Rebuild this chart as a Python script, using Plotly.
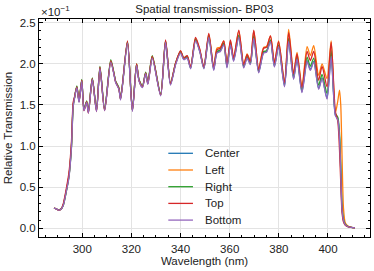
import plotly.graph_objects as go

# Wavelength samples (nm)
wavelength = [288.5, 289.5, 290.5, 291.5, 292.3, 293.0, 293.8, 294.6, 295.6, 296.3,
              296.8, 297.8, 298.7, 299.8, 300.7, 301.8, 302.5, 304.1, 305.8, 307.2,
              309.1, 311.6, 312.9, 313.6, 314.9, 315.6, 318.4, 320.4, 322.1, 323.1,
              324.5, 325.8, 326.7, 328.5, 331.9, 333.9, 335.9, 338.0, 340.0, 341.3,
              342.7, 344.1, 346.1, 347.8, 349.5, 351.5, 353.5, 354.8, 356.2, 357.6,
              358.9, 360.3, 361.6, 363.7, 365.7, 367.1, 368.4, 369.8, 371.8, 373.8,
              375.0, 376.6, 378.2, 379.9, 382.3, 384.0, 386.0, 387.4, 389.4, 391.5,
              392.8, 394.2, 396.2, 397.6, 399.6, 401.3, 403.0, 404.0, 404.7, 405.2,
              405.7, 406.3, 407.0, 408.0, 409.5, 411.0]

# Relative transmission in units of 1e-1
center = [0.245, 0.235, 0.22, 0.235, 0.29, 0.38, 0.50, 0.64, 1.00, 1.50,
          1.58, 1.72, 1.54, 1.80, 1.44, 1.54, 1.41, 1.82, 1.43, 1.95,
          1.44, 2.03, 1.88, 1.78, 1.70, 1.57, 2.26, 1.43, 1.99, 1.80,
          1.72, 1.89, 1.76, 2.08, 1.62, 2.27, 1.75, 2.00, 2.14, 2.06,
          2.08, 1.95, 2.29, 2.16, 1.95, 2.33, 1.93, 2.14, 2.16, 2.24,
          1.96, 2.24, 2.04, 2.33, 1.96, 2.08, 2.00, 2.32, 1.90, 2.14,
          2.15, 2.28, 1.97, 2.22, 1.73, 2.28, 1.82, 2.07, 1.66, 2.04,
          1.93, 2.03, 1.70, 1.83, 1.58, 2.10, 1.38, 1.33, 1.10, 0.70,
          0.25, 0.10, 0.045, 0.022, 0.01, 0.005]
left = [0.245, 0.235, 0.22, 0.235, 0.29, 0.38, 0.50, 0.64, 1.00, 1.50,
        1.58, 1.72, 1.55, 1.80, 1.44, 1.54, 1.41, 1.82, 1.43, 1.95,
        1.44, 2.03, 1.88, 1.78, 1.70, 1.57, 2.27, 1.43, 2.00, 1.80,
        1.72, 1.89, 1.76, 2.09, 1.62, 2.28, 1.76, 2.01, 2.15, 2.07,
        2.09, 1.96, 2.31, 2.17, 1.96, 2.36, 1.95, 2.19, 2.20, 2.28,
        1.99, 2.28, 2.07, 2.40, 2.00, 2.12, 2.04, 2.40, 1.94, 2.20,
        2.21, 2.34, 2.02, 2.28, 1.78, 2.42, 1.89, 2.14, 1.73, 2.21,
        2.10, 2.22, 1.86, 2.00, 1.82, 2.28, 1.40, 1.55, 1.68, 1.50,
        0.90, 0.25, 0.07, 0.03, 0.012, 0.006]
right = [0.245, 0.235, 0.225, 0.24, 0.28, 0.37, 0.49, 0.63, 0.98, 1.48,
         1.58, 1.73, 1.55, 1.81, 1.45, 1.55, 1.42, 1.83, 1.44, 1.97,
         1.45, 2.05, 1.89, 1.79, 1.71, 1.58, 2.27, 1.44, 2.00, 1.81,
         1.73, 1.90, 1.78, 2.10, 1.63, 2.28, 1.76, 2.01, 2.15, 2.07,
         2.09, 1.95, 2.30, 2.16, 1.95, 2.34, 1.94, 2.15, 2.17, 2.25,
         1.97, 2.25, 2.05, 2.35, 1.97, 2.09, 2.01, 2.34, 1.91, 2.15,
         2.16, 2.29, 1.98, 2.23, 1.75, 2.31, 1.84, 2.09, 1.68, 2.08,
         1.97, 2.07, 1.74, 1.87, 1.64, 2.16, 1.40, 1.35, 1.15, 0.75,
         0.28, 0.11, 0.05, 0.023, 0.01, 0.005]
top = [0.245, 0.235, 0.22, 0.24, 0.30, 0.40, 0.53, 0.68, 1.05, 1.53,
       1.59, 1.72, 1.54, 1.80, 1.43, 1.54, 1.40, 1.82, 1.42, 1.96,
       1.43, 2.04, 1.88, 1.78, 1.70, 1.57, 2.28, 1.43, 2.00, 1.80,
       1.72, 1.89, 1.76, 2.09, 1.62, 2.29, 1.76, 2.01, 2.16, 2.07,
       2.10, 1.96, 2.32, 2.18, 1.96, 2.37, 1.95, 2.17, 2.19, 2.28,
       1.99, 2.29, 2.07, 2.41, 1.99, 2.11, 2.03, 2.41, 1.93, 2.19,
       2.20, 2.34, 2.01, 2.27, 1.77, 2.38, 1.88, 2.12, 1.71, 2.15,
       2.04, 2.15, 1.80, 1.97, 1.72, 2.26, 1.42, 1.30, 0.95, 0.55,
       0.20, 0.08, 0.04, 0.02, 0.01, 0.005]
bottom = [0.245, 0.235, 0.22, 0.235, 0.28, 0.37, 0.49, 0.62, 0.98, 1.48,
          1.57, 1.71, 1.53, 1.79, 1.43, 1.53, 1.40, 1.81, 1.42, 1.94,
          1.43, 2.02, 1.87, 1.77, 1.69, 1.56, 2.25, 1.42, 1.98, 1.79,
          1.71, 1.88, 1.75, 2.07, 1.61, 2.26, 1.74, 1.99, 2.13, 2.05,
          2.07, 1.94, 2.28, 2.15, 1.94, 2.32, 1.92, 2.13, 2.15, 2.23,
          1.95, 2.23, 2.03, 2.32, 1.95, 2.07, 1.99, 2.31, 1.89, 2.13,
          2.14, 2.27, 1.96, 2.21, 1.72, 2.27, 1.81, 2.06, 1.65, 2.03,
          1.92, 2.02, 1.69, 1.82, 1.57, 2.09, 1.37, 1.32, 1.08, 0.68,
          0.24, 0.10, 0.045, 0.022, 0.01, 0.005]

series_names = ["Center", "Left", "Right", "Top", "Bottom"]
series_values = [center, left, right, top, bottom]
colors = ["#1f77b4", "#ff7f0e", "#2ca02c", "#d62728", "#9467bd"]

x_ticks = [300, 320, 340, 360, 380, 400]
y_ticks = [0.0, 0.5, 1.0, 1.5, 2.0, 2.5]

for v in series_values:
    assert len(v) == len(wavelength)

W, H = 374, 271
ML, MR, MT, MB = 38.5, 4, 19, 34
PW, PH = W - ML - MR, H - MT - MB

fig = go.Figure()
for name, vals, col in zip(series_names, series_values, colors):
    fig.add_trace(go.Scatter(x=wavelength, y=vals, mode="lines", name=name, showlegend=False,
                             line=dict(color=col, width=1.3, shape="spline", smoothing=0.7)))

FONT_FAMILY = "Liberation Sans, Arial, sans-serif"
font = dict(family=FONT_FAMILY, size=11.5, color="#222222")
axis_common = dict(
    showline=True, linecolor="black", linewidth=1, mirror="ticks",
    ticks="inside", ticklen=4, tickwidth=0.8, tickcolor="black",
    showgrid=True, gridcolor="#e3e3e3", gridwidth=0.8, zeroline=False,
    tickfont=font,
)
fig.update_layout(
    width=W, height=H,
    margin=dict(l=ML, r=MR, t=MT, b=MB, autoexpand=False),
    plot_bgcolor="white", paper_bgcolor="white",
    font=font,
    title=dict(text="Spatial transmission- BP03", x=(ML + PW / 2) / W, xanchor="center",
               y=1 - 9 / H, yanchor="middle", font=font),
    xaxis=dict(range=[282.4, 417.1], tickvals=x_ticks, ticktext=[str(t) for t in x_ticks],
               ticklabelstandoff=1,
               title=dict(text="Wavelength (nm)", standoff=1, font=font),
               minor=dict(dtick=5, tick0=300, ticks="inside", ticklen=2, tickcolor="black",
                          tickwidth=0.6, showgrid=False),
               **axis_common),
    yaxis=dict(range=[-0.106, 2.545], tickvals=y_ticks, ticktext=[f"{t:.1f}" for t in y_ticks],
               title=dict(text="Relative Transmission", standoff=4, font=font),
               minor=dict(dtick=0.1, tick0=0, ticks="inside", ticklen=2, tickcolor="black",
                          tickwidth=0.6, showgrid=False),
               **axis_common),
    showlegend=False,
)

# Legend drawn in the plot area (matplotlib-like compact spacing)
leg_line_x0, leg_line_x1, leg_text_x = 168, 192.7, 202.3
leg_y0, leg_dy = 153.3, 16.7
for i, (name, col) in enumerate(zip(series_names, colors)):
    py = leg_y0 + i * leg_dy
    yp = (H - MB - py) / PH
    fig.add_shape(type="line", xref="paper", yref="paper",
                  x0=(leg_line_x0 - ML) / PW, x1=(leg_line_x1 - ML) / PW, y0=yp, y1=yp,
                  line=dict(color=col, width=1.3))
    fig.add_annotation(text=name, xref="paper", yref="paper", x=(leg_text_x - ML) / PW, y=yp,
                       xanchor="left", yanchor="middle", showarrow=False, font=font)

fig.add_annotation(text="×10<sup>−1</sup>", xref="paper", yref="paper", x=0.0, y=1.0,
                   xanchor="left", yanchor="bottom", showarrow=False, yshift=-1,
                   font=font)

fig.write_html("out.html", config={"displayModeBar": False},
               post_script="document.body.style.margin='0';")
